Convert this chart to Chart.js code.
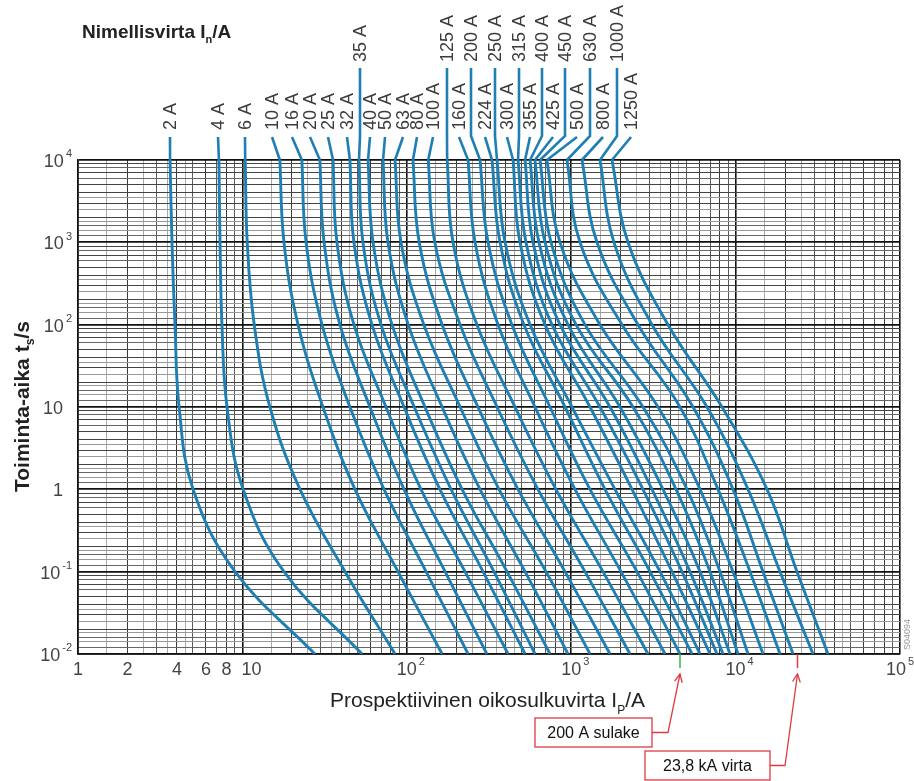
<!DOCTYPE html>
<html><head><meta charset="utf-8">
<script src="https://cdn.jsdelivr.net/npm/chart.js@4/dist/chart.umd.min.js"></script>
<style>html,body{margin:0;padding:0;background:#fff}canvas{display:block}</style>
</head><body>
<canvas id="c" width="914" height="781"></canvas>
<script>
// ---- data ----
const times = [10000, 1000, 100, 10, 1, 0.1, 0.01];           // operating time t_s / s
const fuseLabels = ['2 A','4 A','6 A','10 A','16 A','20 A','25 A','32 A','35 A','40 A','50 A','63 A','80 A','100 A','125 A','160 A','200 A','224 A','250 A','300 A','315 A','355 A','400 A','425 A','450 A','500 A','630 A','800 A','1000 A','1250 A'];
// prospective current I_p / A at each time in `times`
const i2A    = [3.63, 3.73, 3.89, 4.12, 5.01, 9.02, 27.6];
const i4A    = [7.20, 7.31, 7.51, 8.06, 10.1, 17.9, 53.4];
const i6A    = [10.4, 10.7, 11.8, 14.7, 22.4, 42.1, 84.8];
const i10A   = [16.9, 17.9, 21.8, 30.9, 48.4, 88.4, 164];
const i16A   = [23.0, 24.4, 30.5, 45.1, 72.7, 131, 236];
const i20A   = [29.6, 31.4, 39.2, 59.7, 96.2, 171, 307];
const i25A   = [35.6, 37.6, 47.7, 74.7, 122, 226, 413];
const i32A   = [45.1, 47.7, 61.4, 96.2, 159, 291, 524];
const i35A   = [51.2, 54.1, 69.7, 111, 186, 339, 602];
const i40A   = [58.1, 62.3, 81.3, 129, 217, 407, 743];
const i50A   = [71.7, 76.8, 102, 164, 279, 524, 956];
const i63A   = [84.8, 92.2, 127, 211, 364, 703, 1301];
const i80A   = [109, 119, 164, 271, 475, 917, 1722];
const i100A  = [135, 148, 211, 354, 628, 1213, 2279];
const i125A  = [176, 191, 267, 455, 808, 1561, 2933];
const i160A  = [236, 260, 359, 602, 1055, 2009, 3721];
const i200A  = [279, 312, 436, 743, 1301, 2513, 4590];
const i224A  = [330, 369, 516, 917, 1606, 3016, 5430];
const i250A  = [354, 396, 562, 1011, 1846, 3469, 6074];
const i300A  = [443, 488, 693, 1301, 2344, 4103, 6987];
const i315A  = [475, 531, 764, 1497, 2734, 4721, 7707];
const i355A  = [524, 586, 855, 1722, 3101, 5280, 8381];
const i400A  = [562, 637, 956, 1981, 3618, 6074, 9246];
const i425A  = [602, 693, 1070, 2377, 4341, 6987, 10340];
const i450A  = [646, 754, 1213, 2734, 5062, 8036, 11900];
const i500A  = [712, 855, 1497, 3373, 6074, 9643, 14680];
const i630A  = [943, 1131, 2037, 4590, 7815, 12240, 18630];
const i800A  = [1163, 1435, 2549, 5507, 9643, 14680, 22350];
const i1000A = [1497, 1820, 3101, 6699, 11900, 18630, 29570];
const i1250A = [1771, 2216, 3880, 8265, 15530, 23630, 36480];
const fuseCurrents = [i2A,i4A,i6A,i10A,i16A,i20A,i25A,i32A,i35A,i40A,i50A,i63A,i80A,i100A,i125A,i160A,i200A,i224A,i250A,i300A,i315A,i355A,i400A,i425A,i450A,i500A,i630A,i800A,i1000A,i1250A];
const xTickValues = [1, 2, 4, 6, 8, 10, 100, 1000, 10000, 100000];
const yTickValues = [10000, 1000, 100, 10, 1, 0.1, 0.01];
const markFuseCurrent = 4590;     // 200 A fuse at 0.01 s
const markShortCircuit = 23800;   // 23,8 kA

// ---- layout (pixels) ----
const labelX   = [170,218,245,272,292,310,328,347,360,370,385,403,417,433,447,459,471,485,495,507,519,530,542,553,565,577,590,603,617,631];
const labelRow = [0,0,0,0,0,0,0,0,1,0,0,0,0,0,1,0,1,0,1,0,1,0,1,0,1,0,1,0,1,0];

const BLUE = '#1f7fb3';
const FONT = '"Liberation Sans", Arial, Helvetica, sans-serif';

function mant(v){ const e = Math.floor(Math.log10(v) + 1e-9); return Math.round(v / Math.pow(10, e) * 10) / 10; }
const xMant = [1,1.5,2,2.5,3,3.5,4,4.5,5,6,7,8,9];
const yMant = [1,1.2,1.4,1.6,1.8,2,2.5,3,3.5,4,5,6,7,8,9];
function gridVals(min, max, ms){ const out=[]; for(let e=Math.round(Math.log10(min)); e<Math.round(Math.log10(max)); e++){ ms.forEach(m=>out.push(m*Math.pow(10,e))); } out.push(max); return out; }
function xGridColor(v){ const m=mant(v); if(m===1) return '#111'; if([2,4,6,8].includes(m)) return '#3a3a3a'; if([3,5,7,9].includes(m)) return '#5a5a5a'; return '#aaa'; }
function yGridColor(v){ const m=mant(v); if(m===1) return '#111'; if([2,3,4,5,7,9].includes(m)) return '#444'; if([1.2,1.6,6,8].includes(m)) return '#666'; return '#999'; }

const datasets = fuseCurrents.map((arr, k) => ({
  label: fuseLabels[k],
  data: arr.map((c, j) => ({ x: c, y: times[j] })),
  borderColor: BLUE, borderWidth: 2.9, pointRadius: 0,
  tension: 0.4, fill: false
}));

function sup(ctx, base, s, x, y, align, size){
  ctx.font = size + 'px ' + FONT;
  const wb = ctx.measureText(base).width;
  ctx.font = Math.round(size*0.62) + 'px ' + FONT;
  const ws = s ? ctx.measureText(s).width + 2 : 0;
  let x0 = align === 'right' ? x - wb - ws : (align === 'center' ? x - wb/2 : x);
  ctx.textAlign = 'left';
  ctx.font = size + 'px ' + FONT;
  ctx.fillText(base, x0, y);
  if (s){ ctx.font = Math.round(size*0.62) + 'px ' + FONT; ctx.fillText(s, x0 + wb + 2, y - size*0.42); }
}

const overlay = {
  id: 'overlay',
  afterDraw(chart){
    const ctx = chart.ctx, xs = chart.scales.x, ys = chart.scales.y;
    ctx.save();
    ctx.fillStyle = '#444'; ctx.textBaseline = 'middle';
    xTickValues.forEach(v => {
      const px = xs.getPixelForValue(v);
      if (v < 10) sup(ctx, String(v), '', px, 670, 'center', 18);
      else if (v === 10) sup(ctx, '10', '', px - 1, 670, 'left', 18);
      else { const e = Math.round(Math.log10(v)); sup(ctx, '10', String(e), v === 100000 ? px - 14 : px, 670, v===100000?'left':'center', 18); }
    });
    yTickValues.forEach(v => {
      const py = ys.getPixelForValue(v) + 2;
      const e = Math.round(Math.log10(v));
      if (v === 10) sup(ctx, '10', '', 63, py, 'right', 18);
      else if (v === 1) sup(ctx, '1', '', 63, py, 'right', 18);
      else sup(ctx, '10', e < 0 ? '-' + (-e) : String(e), 72, py, 'right', 18);
    });
    ctx.fillStyle = '#222';
    ctx.textBaseline = 'alphabetic';
    ctx.font = 'bold 19px ' + FONT;
    let t1 = 'Nimellisvirta I'; ctx.textAlign = 'left';
    ctx.fillText(t1, 82, 38);
    let w1 = ctx.measureText(t1).width;
    ctx.font = 'bold 11px ' + FONT; ctx.fillText('n', 82 + w1, 43);
    let w2 = ctx.measureText('n').width;
    ctx.font = 'bold 19px ' + FONT; ctx.fillText('/A', 82 + w1 + w2, 38);

    ctx.font = '21px ' + FONT;
    let t2 = 'Prospektiivinen oikosulkuvirta I';
    ctx.fillText(t2, 330, 707);
    let w3 = ctx.measureText(t2).width;
    ctx.font = '12px ' + FONT; ctx.fillText('P', 330 + w3, 714);
    let w4 = ctx.measureText('P').width;
    ctx.font = '21px ' + FONT; ctx.fillText('/A', 330 + w3 + w4, 707);

    ctx.save();
    ctx.translate(29, 492); ctx.rotate(-Math.PI/2);
    ctx.font = 'bold 21px ' + FONT;
    let t3 = 'Toiminta-aika t';
    ctx.fillText(t3, 0, 0);
    let w5 = ctx.measureText(t3).width;
    ctx.font = 'bold 12px ' + FONT; ctx.fillText('s', w5, 5);
    let w6 = ctx.measureText('s').width;
    ctx.font = 'bold 21px ' + FONT; ctx.fillText('/s', w5 + w6, 0);
    ctx.restore();

    fuseLabels.forEach((lab, k) => {
      const lx = labelX[k], row = labelRow[k];
      const yb = row ? 62 : 130;
      ctx.save();
      ctx.translate(lx + 6, yb); ctx.rotate(-Math.PI/2);
      ctx.fillStyle = '#3c3c3c'; ctx.font = '18px ' + FONT;
      ctx.textAlign = 'left'; ctx.textBaseline = 'alphabetic';
      ctx.fillText(lab, 0, 0);
      ctx.restore();
      const cx = xs.getPixelForValue(fuseCurrents[k][0]);
      ctx.strokeStyle = BLUE; ctx.lineWidth = 2.6; ctx.lineCap = 'butt';
      ctx.beginPath();
      if (row) { ctx.moveTo(lx, 68); ctx.lineTo(lx, 136); ctx.lineTo(cx, ys.top); }
      else { ctx.moveTo(lx, 137); ctx.lineTo(cx, ys.top); }
      ctx.stroke();
    });

    const gx = xs.getPixelForValue(markFuseCurrent), rx = xs.getPixelForValue(markShortCircuit);
    ctx.lineWidth = 1.5;
    ctx.strokeStyle = '#3cb44b'; ctx.beginPath(); ctx.moveTo(gx, ys.bottom); ctx.lineTo(gx, ys.bottom + 14); ctx.stroke();
    ctx.strokeStyle = '#e03a44'; ctx.beginPath(); ctx.moveTo(rx, ys.bottom); ctx.lineTo(rx, ys.bottom + 14); ctx.stroke();

    function callout(text, bx, by, bw, bh, tipX, tipY, elbowX){
      ctx.strokeStyle = '#e03a44'; ctx.lineWidth = 1.3; ctx.fillStyle = '#fff';
      ctx.fillRect(bx, by, bw, bh); ctx.strokeRect(bx, by, bw, bh);
      ctx.fillStyle = '#111'; ctx.font = '16px ' + FONT; ctx.textAlign = 'center'; ctx.textBaseline = 'middle';
      ctx.fillText(text, bx + bw/2, by + bh/2 + 1);
      ctx.beginPath(); ctx.moveTo(bx + bw, by + bh/2); ctx.lineTo(elbowX, by + bh/2); ctx.lineTo(tipX, tipY); ctx.stroke();
      const ang = Math.atan2(tipY - (by + bh/2), tipX - elbowX);
      ctx.beginPath();
      ctx.moveTo(tipX - 9*Math.cos(ang - 0.45), tipY - 9*Math.sin(ang - 0.45));
      ctx.lineTo(tipX, tipY);
      ctx.lineTo(tipX - 9*Math.cos(ang + 0.45), tipY - 9*Math.sin(ang + 0.45));
      ctx.stroke();
    }
    callout('200 A sulake', 535, 718, 117, 29, gx, 674, 668);
    callout('23,8 kA virta', 645, 751, 125, 29, rx, 674, 785);

    ctx.save();
    ctx.translate(908, 650); ctx.rotate(-Math.PI/2);
    ctx.fillStyle = '#999'; ctx.font = '9px ' + FONT; ctx.textAlign = 'left'; ctx.textBaseline = 'middle';
    ctx.fillText('S04094', 0, 0);
    ctx.restore();
    ctx.restore();
  }
};

new Chart(document.getElementById('c'), {
  type: 'line',
  data: { datasets },
  options: {
    responsive: false, animation: false, devicePixelRatio: 1,
    layout: { padding: { left: 78, right: 14, top: 160, bottom: 127 } },
    plugins: { legend: { display: false }, tooltip: { enabled: false } },
    scales: {
      x: {
        type: 'logarithmic', min: 1, max: 100000,
        ticks: { display: false },
        afterBuildTicks: s => { s.ticks = gridVals(1, 100000, xMant).map(v => ({ value: v })); },
        afterFit: s => { s.height = 0; },
        grid: { drawTicks: false, color: c => xGridColor(c.tick.value), lineWidth: c => mant(c.tick.value) === 1 ? 1.6 : 1 },
        border: { display: true, color: '#111', width: 1.6 }
      },
      y: {
        type: 'logarithmic', min: 0.01, max: 10000,
        ticks: { display: false },
        afterBuildTicks: s => { s.ticks = gridVals(0.01, 10000, yMant).map(v => ({ value: v })); },
        afterFit: s => { s.width = 0; },
        grid: { drawTicks: false, color: c => yGridColor(c.tick.value), lineWidth: c => mant(c.tick.value) === 1 ? 1.8 : 1 },
        border: { display: true, color: '#111', width: 1.6 }
      }
    }
  },
  plugins: [overlay]
});
</script>
</body></html>
